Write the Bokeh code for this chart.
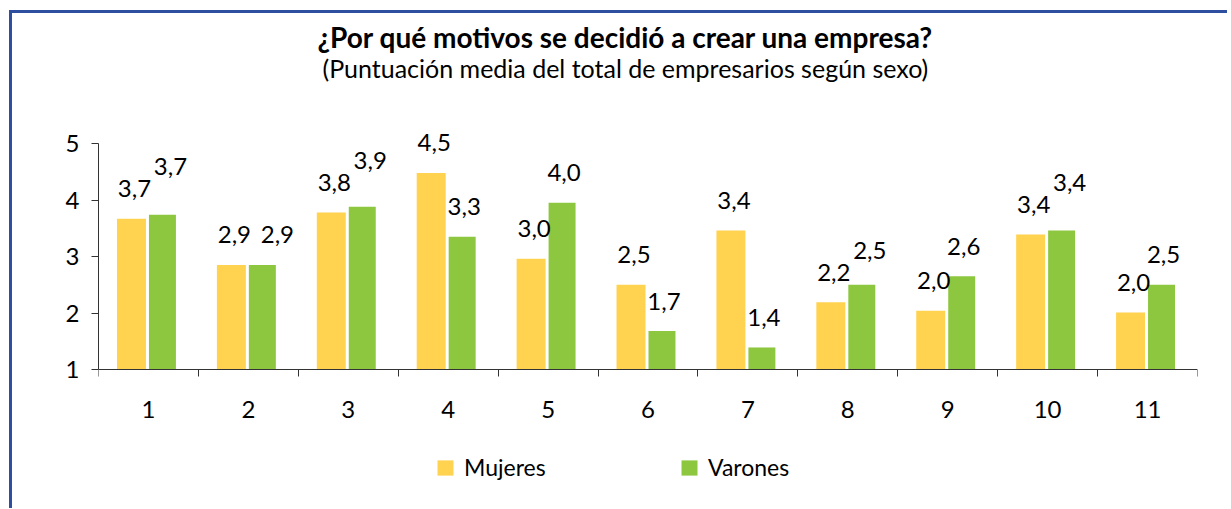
from bokeh.plotting import figure
from bokeh.models import (ColumnDataSource, Range1d, FixedTicker, Title, Legend,
                          LegendItem)
from bokeh.embed import file_html
from bokeh.resources import INLINE
from bokeh.core.properties import value

# ---------------- data ----------------
categories = ["1", "2", "3", "4", "5", "6", "7", "8", "9", "10", "11"]
mujeres = [3.67, 2.85, 3.78, 4.48, 2.96, 2.50, 3.46, 2.19, 2.04, 3.39, 2.01]
varones = [3.74, 2.85, 3.88, 3.35, 3.95, 1.68, 1.39, 2.50, 2.65, 3.46, 2.50]
mujeres_labels = ["3,7", "2,9", "3,8", "4,5", "3,0", "2,5", "3,4", "2,2", "2,0", "3,4", "2,0"]
varones_labels = ["3,7", "2,9", "3,9", "3,3", "4,0", "1,7", "1,4", "2,5", "2,6", "3,4", "2,5"]
y_ticks = [1, 2, 3, 4, 5]
series_names = ["Mujeres", "Varones"]

TITLE = "¿Por qué motivos se decidió a crear una empresa?"
SUBTITLE = "(Puntuación media del total de empresarios según sexo)"

# ---------------- style ----------------
FONT = "Lato"
YELLOW = "#FFD24F"
GREEN = "#8DC63F"
BLUE = "#2E4EA0"
AXIS = "#333333"

W, H = 1215, 495
MB_L, MB_R, MB_T = 86, 30, 69
FRAME_W = W - MB_L - MB_R
FRAME_H = H - MB_T
AX_TOP, AX_BOTTOM = 130, 356      # canvas y of the value axis ends
PPU = (AX_BOTTOM - AX_TOP) / (y_ticks[-1] - y_ticks[0])
Y_END = y_ticks[-1] + (AX_TOP - MB_T) / PPU
Y_START = y_ticks[0] - (H - AX_BOTTOM) / PPU

n = len(categories)
xs = list(range(1, n + 1))

p = figure(frame_width=FRAME_W, frame_height=FRAME_H,
           output_backend="svg", toolbar_location=None,
           title=None,
           x_range=Range1d(0.5, n + 0.5), y_range=Range1d(Y_START, Y_END),
           min_border_left=MB_L, min_border_right=MB_R,
           min_border_top=MB_T, min_border_bottom=0)
p.styles = {"border-left": f"3px solid {BLUE}", "border-top": f"3px solid {BLUE}",
            "margin-left": "9px", "margin-top": "10px"}
p.outline_line_color = None
p.grid.visible = False
p.background_fill_color = "white"
p.border_fill_color = "white"

src = ColumnDataSource(dict(
    x=xs, m=mujeres, v=varones,
    xm=[x - 0.17 for x in xs], xv=[x + 0.14 for x in xs],
))
bottom = y_ticks[0]
rm = p.vbar(x="xm", top="m", bottom=bottom, width=0.29, source=src,
            fill_color=YELLOW, line_color=None)
rv = p.vbar(x="xv", top="v", bottom=bottom, width=0.27, source=src,
            fill_color=GREEN, line_color=None)

# data labels (placement rule: 30px above the bar, nudged apart when they collide)
lab_x, lab_y, lab_t, off_x, off_y = [], [], [], [], []
for i, x in enumerate(xs):
    m, v = mujeres[i], varones[i]
    mx, my, vx, vy = 3, -30, 2, -30
    dy = (v - m) * PPU
    if abs(dy) < 0.5:
        vx = 15
    elif 0 < dy < 22:
        vy -= (22 - dy)
        vx = 8
    elif -22 < dy < 0:
        my -= (22 + dy)
    lab_x += [x - 0.17, x + 0.14]
    lab_y += [m, v]
    lab_t += [mujeres_labels[i], varones_labels[i]]
    off_x += [mx, vx]
    off_y += [my, vy]

lsrc = ColumnDataSource(dict(x=lab_x, y=lab_y, t=lab_t, ox=off_x, oy=off_y))
p.text(x="x", y="y", text="t", x_offset="ox", y_offset="oy", source=lsrc,
       text_font=value(FONT), text_font_size="24px", text_color="black",
       text_align="center", text_baseline="middle")

# axes
ya = p.yaxis[0]
ya.ticker = FixedTicker(ticks=y_ticks)
ya.bounds = (y_ticks[0], y_ticks[-1])
ya.axis_line_color = AXIS
ya.major_tick_line_color = AXIS
ya.major_tick_out = 7
ya.major_tick_in = 0
ya.minor_tick_line_color = None
ya.major_label_standoff = 12
ya.major_label_text_font = FONT
ya.major_label_text_font_size = "24px"
ya.major_label_text_color = "black"

xa = p.xaxis[0]
xa.fixed_location = y_ticks[0]
xa.ticker = FixedTicker(ticks=xs, minor_ticks=[x - 0.5 for x in xs] + [n + 0.5])
xa.major_label_overrides = {x: c for x, c in zip(xs, categories)}
xa.axis_line_color = AXIS
xa.major_tick_line_color = None
xa.major_tick_out = 0
xa.major_tick_in = 0
xa.minor_tick_line_color = AXIS
xa.minor_tick_out = 7
xa.minor_tick_in = 0
xa.major_label_standoff = 24
xa.major_label_text_font = FONT
xa.major_label_text_font_size = "24px"
xa.major_label_text_color = "black"

# titles (sub-title first so that it sits closest to the frame)
p.add_layout(Title(text=SUBTITLE, align="left", offset=224, standoff=0,
                   vertical_align="bottom",
                   text_font=FONT, text_font_size="25px", text_font_style="normal",
                   text_color="black"), "above")
p.add_layout(Title(text=TITLE, align="left", offset=219, standoff=-7,
                   vertical_align="bottom",
                   text_font=FONT, text_font_size="28px", text_font_style="bold",
                   text_color="black"), "above")

legend = Legend(items=[LegendItem(label=series_names[0], renderers=[rm]),
                       LegendItem(label=series_names[1], renderers=[rv])],
                orientation="horizontal", location=(337, 27),
                margin=0, padding=0, spacing=63, label_width=152,
                glyph_width=20, glyph_height=19, label_standoff=9,
                label_text_font=FONT, label_text_font_size="23px",
                label_text_color="black",
                border_line_color=None, background_fill_alpha=0)
p.add_layout(legend)

open("out.html", "w").write(file_html(p, INLINE))
